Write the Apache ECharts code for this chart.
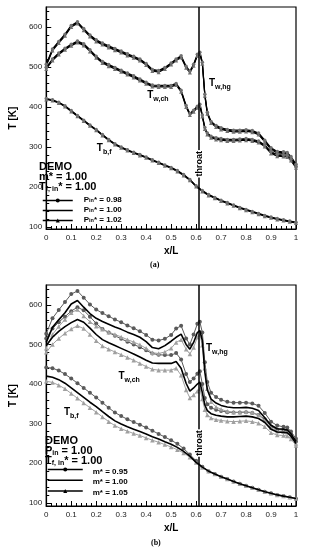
<!DOCTYPE html>
<html><head><meta charset="utf-8">
<script src="https://cdn.jsdelivr.net/npm/echarts@6/dist/echarts.min.js"></script>
<style>html,body{margin:0;padding:0;background:#fff}#c{width:310px;height:550px}</style>
</head><body><div id="c"></div>
<script>
// ---------- shared axes data ----------
const xWall = [0,0.025,0.05,0.075,0.1,0.125,0.15,0.175,0.2,0.225,0.25,0.275,0.3,0.325,0.35,0.375,0.4,0.425,0.45,0.475,0.5,0.52,0.54,0.56,0.575,0.59,0.605,0.615,0.625,0.635,0.645,0.66,0.68,0.7,0.725,0.75,0.775,0.8,0.825,0.85,0.875,0.9,0.925,0.95,0.965,0.98,1.0];
const xBulk = [0,0.025,0.05,0.075,0.1,0.125,0.15,0.175,0.2,0.225,0.25,0.275,0.3,0.325,0.35,0.375,0.4,0.425,0.45,0.475,0.5,0.525,0.55,0.575,0.6,0.625,0.65,0.675,0.7,0.725,0.75,0.775,0.8,0.825,0.85,0.875,0.9,0.925,0.95,0.975,1.0];
const xTicks = [0,0.1,0.2,0.3,0.4,0.5,0.6,0.7,0.8,0.9,1];
const yTicks = [100,200,300,400,500,600];
const throatX = 0.615;

// ---------- (a) P_in* variation ----------
const hgA098 = [507,545,564,582,604,613,596,580,568,560,553,546,540,533,527,520,509,494,491,499,510,520,528,502,490,507,532,537,512,432,387,364,354,348,344,342,342,343,341,335,317,298,289,288,286,276,257];
const hgA100 = [505,543,562,580,602,611,594,578,566,558,551,544,538,531,525,518,507,492,489,497,508,518,526,500,488,505,530,535,510,430,385,362,352,346,342,340,340,341,339,333,315,296,287,286,284,274,255];
const hgA102 = [503,541,560,578,600,609,592,576,564,556,549,542,536,529,523,516,505,490,487,495,506,516,524,498,486,503,528,533,508,428,383,360,350,344,340,338,338,339,337,331,313,294,285,284,282,272,253];
const chA098 = [499,520,535,547,557,565,558,543,527,514,506,499,492,485,478,470,462,455,454,454,454,459,442,404,384,392,402,407,380,349,335,327,323,321,319,319,320,321,319,315,305,288,281,280,279,270,252];
const chA100 = [497,518,533,545,555,563,556,541,525,512,504,497,490,483,476,468,460,453,452,452,452,457,440,402,382,390,400,405,378,347,333,325,321,319,317,317,318,319,317,313,303,286,279,278,277,268,250];
const chA102 = [495,516,531,543,553,561,554,539,523,510,502,495,488,481,474,466,458,451,450,450,450,455,438,400,380,388,398,403,376,345,331,323,319,317,315,315,316,317,315,311,301,284,277,276,275,266,248];
const tbA098 = [421,418,412,403,391,379,367,355,344,331,319,308,300,293,287,281,275,268,262,255,249,241,231,219,203,191,181,174,167,161,155,149,144,139,134,129,125,121,118,115,112];
const tbA100 = [420,417,411,402,390,378,366,354,343,330,318,307,299,292,286,280,274,267,261,254,248,240,230,218,202,190,180,173,166,160,154,148,143,138,133,128,124,120,117,114,111];
const tbA102 = [419,416,410,401,389,377,365,353,342,329,317,306,298,291,285,279,273,266,260,253,247,239,229,217,201,189,179,172,165,159,153,147,142,137,132,127,123,119,116,113,110];

// ---------- (b) m* variation ----------
const hgB095 = [527,566,587,607,627,635,618,601,588,579,571,563,556,548,541,533,524,512,510,514,524,540,547,515,500,525,552,557,530,455,405,378,367,360,355,353,353,353,351,345,327,305,295,292,290,280,262];
const hgB100 = [505,543,562,580,602,611,594,578,566,558,551,544,538,531,525,518,507,492,489,497,508,518,526,500,488,505,530,535,510,430,385,362,352,346,342,340,340,341,339,333,315,296,287,286,284,274,255];
const hgB105 = [490,525,545,563,580,588,572,557,546,538,531,525,519,512,506,499,490,479,477,481,490,505,512,488,476,492,518,525,498,440,388,355,342,336,331,329,329,330,328,322,307,290,281,280,278,269,250];
const chB095 = [515,540,556,570,584,594,586,570,553,539,530,522,514,507,500,493,485,477,474,473,473,478,462,425,405,414,426,432,400,365,349,340,335,332,329,328,328,329,327,322,311,293,285,284,283,273,255];
const chB100 = [497,518,533,545,555,563,556,541,525,512,504,497,490,483,476,468,460,453,452,452,452,457,440,402,382,390,400,405,378,347,333,325,321,319,317,317,318,319,317,313,303,286,279,278,277,268,250];
const chB105 = [480,500,515,528,539,547,540,525,509,496,488,481,474,467,460,452,444,437,435,435,435,440,422,385,365,372,382,388,362,335,322,314,310,308,306,305,306,307,305,301,292,277,271,270,269,261,245];
const tbB095 = [442,440,434,425,414,402,390,378,366,353,340,328,319,311,304,297,290,282,274,266,258,249,237,222,206,191,180,173,166,160,154,148,143,138,133,128,124,120,117,114,110];
const tbB100 = [420,417,411,402,390,378,366,354,343,330,318,307,299,292,286,280,274,267,261,254,248,240,230,218,202,190,180,173,166,160,154,148,143,138,133,128,124,120,117,114,111];
const tbB105 = [407,404,397,388,376,364,352,340,329,317,305,295,287,281,275,270,264,258,253,247,241,234,226,215,202,189,180,173,166,160,154,148,143,138,133,128,124,120,117,114,111];

// ---------- rendering ----------
const F = 'Liberation Sans';
const chart = echarts.init(document.getElementById('c'), null, {renderer:'canvas'});
const pairs = (xs, ys) => xs.map((x,i)=>[x, ys[i]]);
const yMinor = []; for (let v = 100; v <= 640; v += 20) yMinor.push(v);

const richT = {
  t:{fontFamily:F, fontSize:10, fontWeight:'bold', color:'#000', lineHeight:11, verticalAlign:'top'},
  s:{fontFamily:F, fontSize:7, fontWeight:'bold', color:'#000', lineHeight:8, padding:[6,0,0,0]}
};

function mk(name, xs, ys, gi, style, extra){
  return Object.assign({type:'line', name, xAxisIndex:gi, yAxisIndex:gi*2, data:pairs(xs,ys),
    showAllSymbol:true, animation:false, silent:true}, style, extra||{});
}
const stA = {
  '098': {symbol:'circle', symbolSize:3.5, itemStyle:{color:'#707070'}, lineStyle:{color:'#000', width:1.2}, z:3},
  '100': {symbol:'none', lineStyle:{color:'#000', width:1.2}, itemStyle:{color:'#000'}, z:2},
  '102': {symbol:'triangle', symbolSize:4, itemStyle:{color:'#707070'}, lineStyle:{color:'#000', width:1.2}, z:3}
};
const stB = {
  '095': {symbol:'circle', symbolSize:4, itemStyle:{color:'#5a5a5a'}, lineStyle:{color:'#5a5a5a', width:1}, z:2},
  '100': {symbol:'none', itemStyle:{color:'#000'}, lineStyle:{color:'#000', width:1.6}, z:4},
  '105': {symbol:'triangle', symbolSize:4.5, itemStyle:{color:'#a0a0a0'}, lineStyle:{color:'#a0a0a0', width:1}, z:3}
};

function mp(coord, text){
  return {coord, symbolSize:0, label:{show:true, position:'inside', formatter:text, rich:richT}};
}
function throatMark(yv){
  return {coord:[throatX, yv], symbolSize:0, label:{show:true, position:'inside', rotate:90, formatter:'throat',
    fontFamily:F, fontSize:9, fontWeight:'bold', color:'#000', backgroundColor:'#fff', padding:[0,1]}};
}
function marks(gi){
  const yv = gi===0 ? [457,427,295,258] : [489,418,327,251];
  const xc = gi===0 ? [0.695,0.447,0.232] : [0.683,0.332,0.1];
  return {
    markLine:{silent:true, symbol:'none', animation:false, label:{show:false},
      lineStyle:{color:'#000', width:1.5, type:'solid'}, data:[{xAxis:throatX}]},
    markPoint:{silent:true, animation:false, data:[
      mp([xc[0], yv[0]], '{t|T}{s|w,hg}'),
      mp([xc[1], yv[1]], '{t|T}{s|w,ch}'),
      mp([xc[2], yv[2]], '{t|T}{s|b,f}'),
      throatMark(yv[3])
    ]}
  };
}

const series = [
  mk('P098', xWall, hgA098, 0, stA['098']), mk('P100', xWall, hgA100, 0, stA['100'], marks(0)), mk('P102', xWall, hgA102, 0, stA['102']),
  mk('P098', xWall, chA098, 0, stA['098']), mk('P100', xWall, chA100, 0, stA['100']), mk('P102', xWall, chA102, 0, stA['102']),
  mk('P098', xBulk, tbA098, 0, stA['098']), mk('P100', xBulk, tbA100, 0, stA['100']), mk('P102', xBulk, tbA102, 0, stA['102']),
  mk('m095', xWall, hgB095, 1, stB['095']), mk('m100', xWall, hgB100, 1, stB['100'], marks(1)), mk('m105', xWall, hgB105, 1, stB['105']),
  mk('m095', xWall, chB095, 1, stB['095']), mk('m100', xWall, chB100, 1, stB['100']), mk('m105', xWall, chB105, 1, stB['105']),
  mk('m095', xBulk, tbB095, 1, stB['095']), mk('m100', xBulk, tbB100, 1, stB['100']), mk('m105', xBulk, tbB105, 1, stB['105'])
];

function xAx(gi){
  return {type:'value', gridIndex:gi, min:0, max:1, interval:0.1,
    axisLine:{show:true, lineStyle:{color:'#000', width:1.2}},
    axisTick:{show:true, inside:true, length:5, lineStyle:{color:'#000', width:1}},
    minorTick:{show:true, splitNumber:5, length:3, lineStyle:{color:'#000', width:1}},
    splitLine:{show:false}, minorSplitLine:{show:false},
    axisLabel:{fontFamily:F, fontSize:8, color:'#222', margin:5, customValues:xTicks, formatter:v=>String(+v.toFixed(1))},
    name:'x/L', nameLocation:'middle', nameGap:17,
    nameTextStyle:{fontFamily:F, fontSize:10, fontWeight:'bold', color:'#000'}};
}
function yAx(gi, mn, mx){
  return [{type:'value', gridIndex:gi, min:mn, max:mx, position:'left',
    axisLine:{show:true, lineStyle:{color:'#000', width:1.2}},
    axisTick:{show:true, inside:true, length:5, customValues:yTicks, lineStyle:{color:'#000', width:1}},
    axisLabel:{fontFamily:F, fontSize:8, color:'#222', margin:4, customValues:yTicks},
    splitLine:{show:false},
    name:'T [K]', nameLocation:'middle', nameGap:25, nameRotate:90,
    nameTextStyle:{fontFamily:F, fontSize:10, fontWeight:'bold', color:'#000'}},
   {type:'value', gridIndex:gi, min:mn, max:mx, position:'left', offset:0,
    axisLine:{show:false}, axisLabel:{show:false}, splitLine:{show:false},
    axisTick:{show:true, inside:true, length:3, customValues:yMinor, lineStyle:{color:'#000', width:1}}}];
}

const legRich = {
  b:{fontFamily:F, fontSize:8, fontWeight:'bold', color:'#000', lineHeight:4, verticalAlign:'top'},
  s:{fontFamily:F, fontSize:5.5, fontWeight:'bold', color:'#000', lineHeight:10, verticalAlign:'middle'}
};
const legA = {P098:'{b|P}{s|in}{b|* = 0.98}', P100:'{b|P}{s|in}{b|* = 1.00}', P102:'{b|P}{s|in}{b|* = 1.02}'};
const legB = {m095:'{b|m* = 0.95}', m100:'{b|m* = 1.00}', m105:'{b|m* = 1.05}'};
const blk = {itemStyle:{color:'#000'}, lineStyle:{color:'#000', width:1.5}};

function demo(x, y, lines){
  return lines.map((t,i)=>({type:'text', left:x, top:y + i*10, silent:true,
    style:{text:t, rich:{
      b:{fontFamily:F, fontSize:11, fontWeight:'bold', fill:'#000', color:'#000', lineHeight:11},
      s:{fontFamily:F, fontSize:7, fontWeight:'bold', fill:'#000', color:'#000', lineHeight:7, padding:[5,0,0,0]}
    }}}));
}

chart.setOption({
  backgroundColor:'#fff',
  animation:false,
  grid:[
    {left:35, top:7, width:261, height:222, show:true, borderColor:'#000', borderWidth:1.2, backgroundColor:'transparent'},
    {left:35, top:285, width:261, height:221, show:true, borderColor:'#000', borderWidth:1.2, backgroundColor:'transparent'}
  ],
  xAxis:[xAx(0), xAx(1)],
  yAxis:[...yAx(0,95,650), ...yAx(1,92,650)],
  legend:[
    {orient:'vertical', left:42, top:195.5, itemWidth:30, itemHeight:5, itemGap:2, selectedMode:false, padding:0,
     data:[{name:'P098',...blk},{name:'P100',...blk, icon:'path://M0,0L30,0L30,1.5L0,1.5Z'},{name:'P102',...blk}],
     formatter:n=>legA[n], textStyle:{rich:legRich, padding:[0,0,0,6]}},
    {orient:'vertical', left:47, top:467.5, itemWidth:35, itemHeight:5, itemGap:2.7, selectedMode:false, padding:0,
     data:[{name:'m095',...blk},{name:'m100',...blk, icon:'path://M0,0L35,0L35,1.5L0,1.5Z'},{name:'m105',...blk}],
     formatter:n=>legB[n], textStyle:{rich:legRich, padding:[0,0,0,5]}}
  ],
  graphic:[
    ...demo(39, 161, ['{b|DEMO}', '{b|m* = 1.00}', '{b|T}{s|f, in}{b|* = 1.00}']),
    ...demo(45, 435, ['{b|DEMO}', '{b|P}{s|in}{b| = 1.00}', '{b|T}{s|f, in}{b|* = 1.00}']),
    {type:'text', left:150, top:261, silent:true, style:{text:'(a)', font:'bold 8px "Liberation Serif"', fill:'#000'}},
    {type:'text', left:151, top:539, silent:true, style:{text:'(b)', font:'bold 8px "Liberation Serif"', fill:'#000'}}
  ],
  series
});
</script>
</body></html>
